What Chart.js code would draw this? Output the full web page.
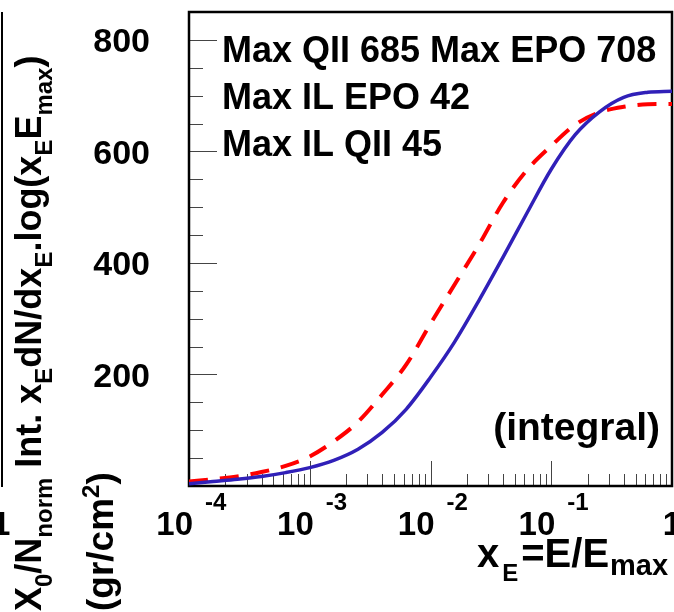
<!DOCTYPE html>
<html>
<head>
<meta charset="utf-8">
<script src="https://cdn.jsdelivr.net/npm/chart.js@4.4.0/dist/chart.umd.min.js"></script>
<style>
  html, body { margin: 0; padding: 0; background: #fff; }
  canvas { display: block; }
</style>
</head>
<body>
<canvas id="intChart" width="674" height="612"></canvas>
<script>
// bin centres, 0.2 decade apart
const xE = [1e-4, 1.58e-4, 2.51e-4, 3.98e-4, 6.31e-4,
            1e-3, 1.58e-3, 2.51e-3, 3.98e-3, 6.31e-3,
            1e-2, 1.58e-2, 2.51e-2, 3.98e-2, 6.31e-2,
            0.1, 0.158, 0.251, 0.398, 0.631, 1];
// integrated spectra
const intEPO = [4, 8, 12, 17, 24, 33, 46, 66, 96, 138, 195, 258, 332, 410, 490, 568, 630, 671, 697, 706, 708];
const intQII = [8, 12, 17, 25, 36, 53, 80, 115, 164, 218, 291, 361, 432, 508, 567, 610, 648, 670, 680, 684.5, 685];
const maxILEPO = 42;
const maxILQII = 45;

const yTicks = [0, 200, 400, 600, 800];
const xDecades = [-4, -3, -2, -1, 0];

const FONT = '"Liberation Sans", Arial, Helvetica, sans-serif';
const BLUE = 'rgb(48,32,184)';
const RED = 'rgb(255,0,0)';

const statLines = [
  'Max QII ' + Math.max(...intQII) + ' Max EPO ' + Math.max(...intEPO),
  'Max IL EPO ' + maxILEPO,
  'Max IL QII ' + maxILQII
];

// draws text pieces one after another (sub/superscripts via dy, extra space via gap)
function drawRuns(ctx, runs, x, y) {
  for (const r of runs) {
    x += r.gap || 0;
    ctx.font = 'bold ' + r.size + 'px ' + FONT;
    ctx.fillText(r.text, x, y + (r.dy || 0));
    x += ctx.measureText(r.text).width;
  }
}

// frame + inward ticks, drawn under the curves
const framePlugin = {
  id: 'frame',
  beforeDatasetsDraw(chart) {
    const { ctx, chartArea: a, scales: { x, y } } = chart;
    ctx.save();
    ctx.strokeStyle = '#444';
    ctx.lineWidth = 1;
    ctx.beginPath();
    for (let v = 50; v <= 800; v += 50) {
      const py = Math.round(y.getPixelForValue(v)) + 0.5;
      const len = v % 200 === 0 ? 28 : 14;
      ctx.moveTo(a.left, py);
      ctx.lineTo(a.left + len, py);
    }
    for (let e = -4; e < 0; e++) {
      for (let m = 1; m <= 9; m++) {
        if (e === -4 && m === 1) continue;
        const px = Math.round(x.getPixelForValue(m * Math.pow(10, e))) + 0.5;
        const len = m === 1 ? 25 : 12;
        ctx.moveTo(px, a.bottom);
        ctx.lineTo(px, a.bottom - len);
      }
    }
    ctx.stroke();

    ctx.strokeStyle = '#000';
    ctx.lineWidth = 2.5;
    ctx.strokeRect(a.left, a.top, a.right - a.left, a.bottom - a.top);

    // edge of the neighbouring pad
    ctx.lineWidth = 2;
    ctx.beginPath();
    ctx.moveTo(2, a.top);
    ctx.lineTo(2, a.bottom + 1);
    ctx.stroke();
    ctx.restore();
  },
  afterDraw(chart) {
    const { ctx, scales: { x, y } } = chart;
    ctx.save();
    ctx.fillStyle = '#000';

    // y tick labels
    ctx.font = 'bold 34px ' + FONT;
    ctx.textAlign = 'right';
    ctx.textBaseline = 'middle';
    for (const v of yTicks) {
      if (v === 0) continue;
      ctx.fillText(String(v), 150, y.getPixelForValue(v) + 3);
    }

    // x tick labels, 10^n
    ctx.textBaseline = 'alphabetic';
    for (const e of xDecades) {
      const px = x.getPixelForValue(Math.pow(10, e));
      ctx.font = 'bold 33px ' + FONT;
      if (e === 0) {
        ctx.textAlign = 'center';
        ctx.fillText('1', px, 535);
        continue;
      }
      ctx.textAlign = 'right';
      ctx.fillText('10', px + 4, 535);
      ctx.font = 'bold 24px ' + FONT;
      ctx.textAlign = 'left';
      ctx.fillText(String(e), px + 16, 510);
    }
    // neighbouring pad's last label, cut by the edge
    ctx.font = 'bold 33px ' + FONT;
    ctx.textAlign = 'left';
    ctx.fillText('1', -8, 535);

    // x title
    drawRuns(ctx, [
      { text: 'x', size: 40 },
      { text: 'E', size: 24, dy: 14, gap: 3 },
      { text: '=E/E', size: 40, gap: 3 },
      { text: 'max', size: 29, dy: 8, gap: 1 }
    ], 477, 567);

    // statistics text
    ctx.font = 'bold 36px ' + FONT;
    statLines.forEach((s, i) => ctx.fillText(s, 222, 61.5 + i * 47));

    ctx.font = 'bold 39px ' + FONT;
    ctx.textAlign = 'right';
    ctx.fillText('(integral)', 660, 440);

    // y title, two rotated lines
    ctx.textAlign = 'left';
    ctx.save();
    ctx.translate(41, 611);
    ctx.rotate(-Math.PI / 2);
    const main = 36, sub = 24, dy = 11;
    drawRuns(ctx, [
      { text: 'X', size: main },
      { text: '0', size: sub, dy: dy },
      { text: '/N', size: main },
      { text: 'norm', size: sub, dy: dy },
      { text: ' Int. x', size: main },
      { text: 'E', size: sub, dy: dy },
      { text: 'dN/dx', size: main },
      { text: 'E', size: sub, dy: dy },
      { text: '.log(x', size: main },
      { text: 'E', size: sub, dy: dy },
      { text: 'E', size: main },
      { text: 'max', size: sub, dy: dy },
      { text: ')', size: main }
    ], 0, 0);
    ctx.restore();

    ctx.save();
    ctx.translate(113, 611);
    ctx.rotate(-Math.PI / 2);
    drawRuns(ctx, [
      { text: '(gr/cm', size: 37 },
      { text: '2', size: sub, dy: -14 },
      { text: ')', size: 37 }
    ], 0, 0);
    ctx.restore();

    ctx.restore();
  }
};

new Chart(document.getElementById('intChart'), {
  type: 'line',
  data: {
    datasets: [
      {
        label: 'EPO',
        data: xE.map((v, i) => ({ x: v, y: intEPO[i] })),
        borderColor: BLUE,
        borderWidth: 3.5,
        pointRadius: 0,
        cubicInterpolationMode: 'monotone',
        fill: false
      },
      {
        label: 'QII',
        data: xE.map((v, i) => ({ x: v, y: intQII[i] })),
        borderColor: RED,
        borderWidth: 4,
        borderDash: [19, 12],
        pointRadius: 0,
        cubicInterpolationMode: 'monotone',
        fill: false
      }
    ]
  },
  options: {
    responsive: false,
    animation: false,
    devicePixelRatio: 1,
    layout: { padding: { left: 189, right: 2, top: 12, bottom: 126 } },
    scales: {
      x: { type: 'logarithmic', min: 1e-4, max: 1, display: false },
      y: { type: 'linear', min: 0, max: 850, display: false }
    },
    plugins: {
      legend: { display: false },
      tooltip: { enabled: false }
    }
  },
  plugins: [framePlugin]
});
</script>
</body>
</html>
